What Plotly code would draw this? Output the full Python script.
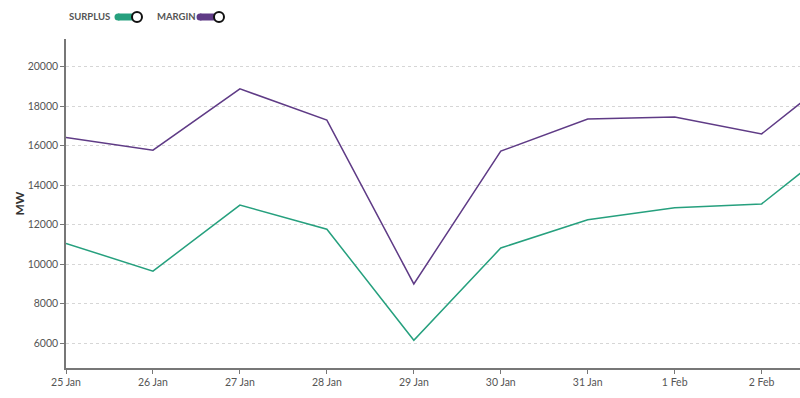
import plotly.graph_objects as go

dates = ["2024-01-25", "2024-01-26", "2024-01-27", "2024-01-28", "2024-01-29",
         "2024-01-30", "2024-01-31", "2024-02-01", "2024-02-02", "2024-02-03"]
surplus = [11050, 9650, 12990, 11770, 6150, 10820, 12250, 12860, 13050, 16530]
margin = [16410, 15770, 18870, 17290, 9000, 15720, 17340, 17440, 16590, 20080]
y_ticks = [6000, 8000, 10000, 12000, 14000, 16000, 18000, 20000]
y_tick_labels = ["6000", "8000", "10000", "12000", "14000", "16000", "18000", "20000"]

SURPLUS_COLOR = "#26a07e"
MARGIN_COLOR = "#5f3b86"
FONT = "Lato"

fig = go.Figure()
fig.add_trace(go.Scatter(x=dates, y=surplus, mode="lines", name="SURPLUS",
                         line=dict(color=SURPLUS_COLOR, width=1.5)))
fig.add_trace(go.Scatter(x=dates, y=margin, mode="lines", name="MARGIN",
                         line=dict(color=MARGIN_COLOR, width=1.5)))

fig.update_layout(
    width=800, height=398,
    margin=dict(l=66, r=0, t=39, b=30, autoexpand=False),
    paper_bgcolor="white", plot_bgcolor="white",
    showlegend=False,
    font=dict(family=FONT, size=11, color="#555"),
    xaxis=dict(
        type="date", automargin=False,
        range=["2024-01-25", "2024-02-02 10:35"],
        tickformat="%-d %b", dtick=86400000, tick0="2024-01-25",
        showgrid=False, showline=True, linecolor="#777", linewidth=1.5,
        ticks="outside", ticklen=4, tickcolor="#777",
        tickfont=dict(family=FONT, size=10.5, color="#555"),
        zeroline=False,
    ),
    yaxis=dict(
        automargin=False,
        range=[4750, 21390],
        tickvals=y_ticks, ticktext=y_tick_labels,
        showgrid=True, gridcolor="#d6d6d6", griddash="dot", gridwidth=1,
        showline=True, linecolor="#777", linewidth=1.5,
        ticks="outside", ticklen=4, tickcolor="#777",
        tickfont=dict(family=FONT, size=10.5, color="#555"),
        zeroline=False,
        title=dict(text="<b>MW</b>", font=dict(family=FONT, size=12, color="#333"), standoff=0),
    ),
)

# Custom legend (text + toggle switch) at the top left
legend_items = [("SURPLUS", SURPLUS_COLOR, 67, 129), ("MARGIN", MARGIN_COLOR, 155, 211)]
W = 734.0
H = 329.0
y_leg = (368 - 17) / H
for label, color, tx, px in legend_items:
    fig.add_annotation(xref="paper", yref="paper", x=(tx - 66) / W, y=y_leg,
                       xanchor="left", yanchor="middle", showarrow=False,
                       text=f"<b>{label}</b>",
                       font=dict(family=FONT, size=9.5, color="#555"))
    xa = (px - 66) / W
    # pill body
    fig.add_shape(type="rect", xref="paper", yref="paper",
                  xsizemode="pixel", ysizemode="pixel", xanchor=xa, yanchor=y_leg,
                  x0=-11, x1=8, y0=-3.5, y1=3.5, fillcolor=color, line=dict(width=0))
    fig.add_shape(type="circle", xref="paper", yref="paper",
                  xsizemode="pixel", ysizemode="pixel", xanchor=xa, yanchor=y_leg,
                  x0=-14.5, x1=-7.5, y0=-3.5, y1=3.5, fillcolor=color, line=dict(width=0))
    # knob
    fig.add_shape(type="circle", xref="paper", yref="paper",
                  xsizemode="pixel", ysizemode="pixel", xanchor=xa, yanchor=y_leg,
                  x0=3, x1=13, y0=-5, y1=5, fillcolor="white",
                  line=dict(color="#111", width=2))

fig.write_html("out.html", config={"displayModeBar": False},
               post_script="document.body.style.margin='0';")
